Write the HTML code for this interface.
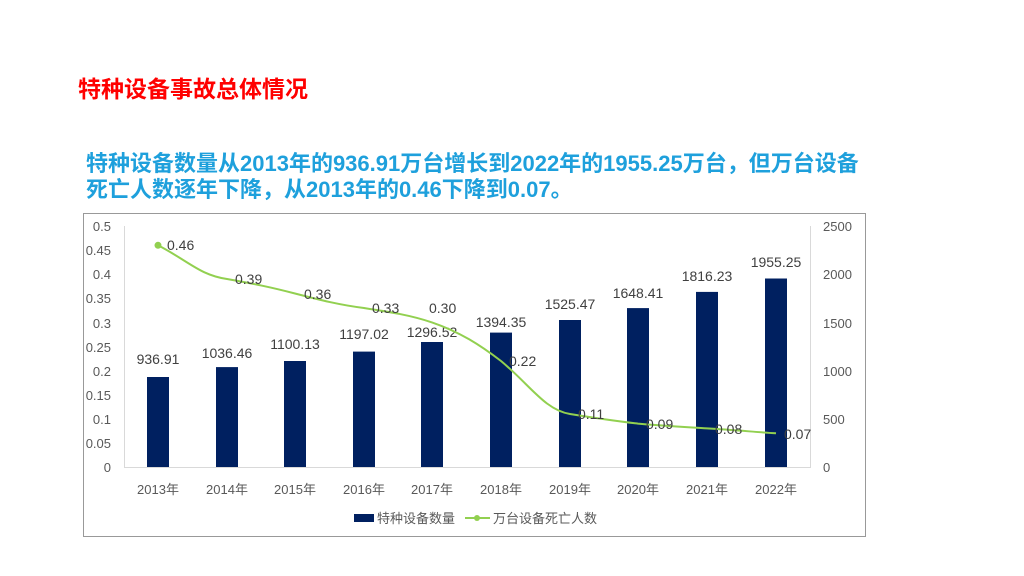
<!DOCTYPE html>
<html><head><meta charset="utf-8"><style>
body{margin:0;width:1024px;height:576px;background:#fff;overflow:hidden;font-family:"Liberation Sans","Noto Sans CJK SC",sans-serif;}
.t{position:absolute;left:78px;top:70px;font-size:23px;font-weight:bold;color:#f00;white-space:nowrap;}
.s{position:absolute;left:86px;top:151px;font-size:22px;font-weight:bold;color:#1ea0dc;line-height:26px;white-space:nowrap;}
svg{position:absolute;left:0;top:0;}
</style></head><body>
<div class="t">特种设备事故总体情况</div>
<div class="s">特种设备数量从2013年的936.91万台增长到2022年的1955.25万台，但万台设备<br>死亡人数逐年下降，从2013年的0.46下降到0.07。</div>
<svg width="1024" height="576" font-family="Liberation Sans, Noto Sans CJK SC, sans-serif">
<rect x="83.5" y="213.5" width="782" height="323" fill="none" stroke="#999" stroke-width="1"/>
<g stroke="#d9d9d9" stroke-width="1">
<line x1="124.5" y1="226" x2="124.5" y2="468"/><line x1="810.5" y1="226" x2="810.5" y2="468"/>
<line x1="124" y1="467.5" x2="811" y2="467.5"/>
</g>
<g font-size="13" fill="#595959" text-anchor="end">
<text x="111" y="231">0.5</text><text x="111" y="255">0.45</text><text x="111" y="279">0.4</text><text x="111" y="303">0.35</text><text x="111" y="328">0.3</text><text x="111" y="352">0.25</text><text x="111" y="376">0.2</text><text x="111" y="400">0.15</text><text x="111" y="424">0.1</text><text x="111" y="448">0.05</text><text x="111" y="472">0</text>
</g>
<g font-size="13" fill="#595959" text-anchor="start">
<text x="823" y="231">2500</text><text x="823" y="279">2000</text><text x="823" y="328">1500</text><text x="823" y="376">1000</text><text x="823" y="424">500</text><text x="823" y="472">0</text>
</g>
<g fill="#002060">
<rect x="147" y="377" width="22" height="90"/>
<rect x="216" y="367.1" width="22" height="99.9"/>
<rect x="284" y="361" width="22" height="106"/>
<rect x="353" y="351.6" width="22" height="115.4"/>
<rect x="421" y="342" width="22" height="125"/>
<rect x="490" y="332.6" width="22" height="134.4"/>
<rect x="559" y="320" width="22" height="147"/>
<rect x="627" y="308.1" width="22" height="158.9"/>
<rect x="696" y="291.9" width="22" height="175.1"/>
<rect x="765" y="278.5" width="22" height="188.5"/>
</g>
<g font-size="14" fill="#404040" text-anchor="middle">
<text x="158" y="364">936.91</text><text x="227" y="358">1036.46</text><text x="295" y="349">1100.13</text><text x="364" y="339">1197.02</text><text x="432" y="337">1296.52</text><text x="501" y="327">1394.35</text><text x="570" y="309">1525.47</text><text x="638" y="298">1648.41</text><text x="707" y="281">1816.23</text><text x="776" y="267">1955.25</text>
</g>
<path d="M158,245.3 C190,262 200,275 227,279 C255,284 270,287 295,293.5 C320,300 340,305 364,308 C390,312 410,315 432,322.4 C460,332 480,345 501,361 C530,385 545,410 570,414 C595,418 615,421 638,423.6 C665,426 685,427 707,428.4 C735,430 755,432 776,433.3" fill="none" stroke="#92d050" stroke-width="2"/>
<circle cx="158" cy="245.3" r="3.5" fill="#92d050"/>
<g font-size="14" fill="#404040">
<text x="167" y="250">0.46</text><text x="235" y="284">0.39</text><text x="304" y="299">0.36</text><text x="372" y="313">0.33</text><text x="429" y="313">0.30</text><text x="509" y="366">0.22</text><text x="578" y="419">0.11</text><text x="646" y="429">0.09</text><text x="715" y="434">0.08</text><text x="784" y="439">0.07</text>
</g>
<g font-size="13" fill="#595959" text-anchor="middle">
<text x="158" y="494">2013年</text><text x="227" y="494">2014年</text><text x="295" y="494">2015年</text><text x="364" y="494">2016年</text><text x="432" y="494">2017年</text><text x="501" y="494">2018年</text><text x="570" y="494">2019年</text><text x="638" y="494">2020年</text><text x="707" y="494">2021年</text><text x="776" y="494">2022年</text>
</g>
<rect x="354" y="514" width="20" height="8" fill="#002060"/>
<text x="377" y="523" font-size="13" fill="#595959">特种设备数量</text>
<line x1="465" y1="518" x2="490" y2="518" stroke="#92d050" stroke-width="2"/>
<circle cx="477" cy="518" r="3" fill="#92d050"/>
<text x="493" y="523" font-size="13" fill="#595959">万台设备死亡人数</text>
</svg>
</body></html>
